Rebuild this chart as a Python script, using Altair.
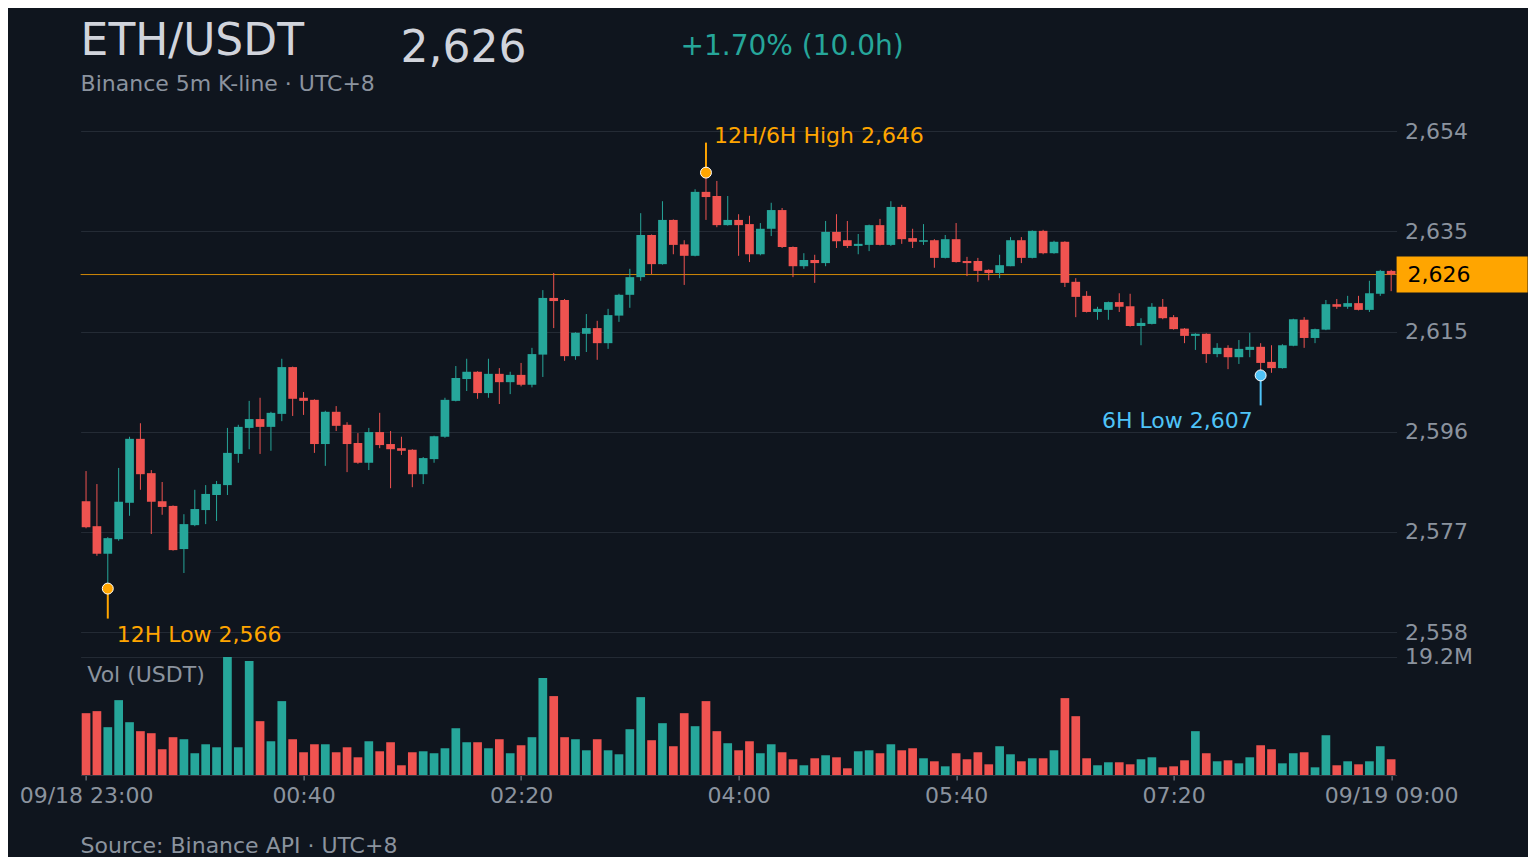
import altair as alt
import pandas as pd

# ETH/USDT 5m candles, 09/18 23:00 -> 09/19 09:00 (UTC+8)
opens = [
    2582.8, 2578.0, 2572.7, 2575.5, 2582.5, 2594.8, 2588.2, 2582.8, 2581.9, 2573.6,
    2578.2, 2581.1, 2584.0, 2585.9, 2591.9, 2596.9, 2598.6, 2597.1, 2599.6, 2608.6,
    2602.7, 2602.3, 2593.8, 2600.0, 2597.5, 2594.0, 2590.2, 2596.1, 2593.8, 2593.0,
    2592.7, 2588.0, 2590.9, 2595.2, 2602.1, 2606.3, 2607.7, 2603.6, 2607.3, 2605.7,
    2607.1, 2605.2, 2611.0, 2621.9, 2621.5, 2610.7, 2615.0, 2616.1, 2613.2, 2618.5,
    2622.5, 2625.9, 2634.0, 2628.4, 2636.9, 2632.2, 2630.0, 2642.3, 2641.5, 2635.9,
    2636.9, 2636.1, 2630.3, 2635.2, 2638.8, 2631.7, 2628.0, 2629.2, 2628.6, 2634.6,
    2633.0, 2631.9, 2632.1, 2635.9, 2632.1, 2639.4, 2633.4, 2632.7, 2633.0, 2629.6,
    2633.2, 2629.0, 2629.0, 2627.3, 2626.7, 2628.0, 2633.0, 2629.6, 2634.8, 2630.5,
    2632.7, 2625.0, 2622.3, 2619.2, 2619.6, 2621.1, 2620.3, 2616.5, 2616.9, 2620.2,
    2618.2, 2616.0, 2614.6, 2615.0, 2611.1, 2612.3, 2610.5, 2611.9, 2612.5, 2609.6,
    2608.4, 2612.7, 2617.7, 2614.2, 2615.8, 2620.7, 2620.2, 2620.9, 2619.6, 2622.7,
    2627.1,
]
highs = [
    2588.6, 2586.1, 2575.9, 2589.2, 2595.2, 2597.8, 2588.8, 2586.5, 2582.0, 2580.3,
    2585.0, 2585.9, 2586.7, 2596.9, 2597.5, 2602.1, 2602.7, 2600.0, 2610.2, 2608.7,
    2603.8, 2602.4, 2600.2, 2601.1, 2598.0, 2595.9, 2596.9, 2599.8, 2596.3, 2595.2,
    2592.8, 2591.3, 2595.4, 2602.7, 2608.8, 2610.2, 2607.8, 2610.2, 2608.4, 2607.7,
    2609.4, 2612.3, 2623.4, 2626.7, 2621.7, 2615.3, 2618.8, 2617.5, 2619.8, 2622.7,
    2627.5, 2638.2, 2634.1, 2640.5, 2637.0, 2633.0, 2642.8, 2646.0, 2644.4, 2641.5,
    2638.0, 2637.7, 2636.3, 2640.2, 2639.2, 2631.8, 2630.5, 2630.2, 2636.7, 2638.0,
    2636.7, 2634.2, 2636.0, 2637.1, 2640.5, 2639.8, 2635.2, 2636.1, 2633.2, 2634.0,
    2636.3, 2629.8, 2629.6, 2627.4, 2630.2, 2633.6, 2633.6, 2634.9, 2635.0, 2632.9,
    2632.8, 2625.7, 2623.2, 2620.2, 2621.2, 2622.8, 2622.7, 2618.0, 2620.9, 2621.7,
    2618.6, 2616.1, 2615.1, 2615.1, 2613.2, 2612.8, 2613.8, 2615.2, 2613.2, 2612.8,
    2613.0, 2617.9, 2618.2, 2616.0, 2621.5, 2621.7, 2622.3, 2622.3, 2625.2, 2627.3,
    2627.3,
]
lows = [
    2577.6, 2572.3, 2566.0, 2575.2, 2580.0, 2585.0, 2576.5, 2580.2, 2573.3, 2569.0,
    2578.0, 2578.4, 2579.0, 2584.0, 2590.2, 2592.8, 2591.9, 2592.5, 2598.2, 2599.2,
    2599.4, 2592.1, 2589.6, 2596.3, 2588.4, 2590.0, 2588.8, 2593.0, 2585.3, 2591.7,
    2585.5, 2586.1, 2590.2, 2595.0, 2602.0, 2604.0, 2602.5, 2602.7, 2601.5, 2603.4,
    2604.9, 2604.7, 2606.7, 2616.1, 2609.8, 2610.0, 2611.5, 2610.0, 2612.1, 2617.3,
    2620.0, 2625.2, 2626.5, 2628.3, 2630.3, 2624.4, 2629.9, 2636.9, 2635.5, 2635.8,
    2630.0, 2628.8, 2630.1, 2633.8, 2631.5, 2625.9, 2627.5, 2624.8, 2628.0, 2631.5,
    2631.5, 2630.3, 2630.9, 2632.0, 2631.9, 2632.3, 2631.5, 2632.1, 2627.7, 2629.5,
    2628.7, 2626.1, 2625.0, 2625.3, 2625.7, 2628.0, 2628.6, 2629.5, 2630.3, 2630.4,
    2624.0, 2618.2, 2619.1, 2617.7, 2617.7, 2619.2, 2616.4, 2612.8, 2616.8, 2617.8,
    2615.8, 2613.2, 2611.9, 2609.4, 2610.5, 2608.2, 2609.2, 2610.5, 2607.0, 2607.5,
    2608.3, 2612.6, 2612.3, 2613.2, 2615.7, 2619.8, 2619.8, 2619.5, 2619.2, 2622.3,
    2623.2,
]
closes = [
    2577.8, 2572.7, 2575.7, 2582.7, 2594.8, 2588.0, 2582.7, 2581.7, 2573.4, 2578.4,
    2581.3, 2584.2, 2586.1, 2592.1, 2597.1, 2598.6, 2597.1, 2599.8, 2608.6, 2602.5,
    2602.1, 2593.8, 2600.0, 2597.3, 2593.8, 2590.2, 2596.1, 2593.6, 2592.8, 2592.5,
    2588.0, 2591.1, 2595.3, 2602.3, 2606.5, 2607.7, 2603.6, 2607.3, 2605.7, 2607.1,
    2605.2, 2611.1, 2621.9, 2621.3, 2610.7, 2615.2, 2616.1, 2613.2, 2618.6, 2622.5,
    2625.9, 2634.0, 2628.4, 2636.9, 2632.1, 2630.0, 2642.3, 2641.3, 2635.9, 2636.9,
    2635.9, 2630.3, 2635.2, 2638.8, 2631.7, 2628.0, 2629.2, 2628.6, 2634.6, 2632.8,
    2631.9, 2632.3, 2635.9, 2632.1, 2639.4, 2633.2, 2632.7, 2633.0, 2629.6, 2633.2,
    2628.8, 2628.6, 2627.1, 2626.7, 2628.2, 2633.0, 2629.6, 2634.8, 2630.5, 2632.7,
    2624.8, 2622.1, 2619.2, 2619.8, 2621.1, 2620.2, 2616.5, 2617.1, 2620.2, 2618.0,
    2615.9, 2614.6, 2615.0, 2611.1, 2612.3, 2610.5, 2612.1, 2612.5, 2609.4, 2608.4,
    2612.8, 2617.8, 2614.2, 2615.9, 2620.7, 2620.2, 2620.9, 2619.6, 2622.8, 2627.1,
    2626.4,
]
# volume per candle, million USDT
volumes = [
    10.06, 10.39, 7.78, 12.18, 8.59, 7.13, 6.80, 4.19, 6.15, 5.82,
    3.54, 5.00, 4.51, 19.20, 4.51, 18.55, 8.76, 5.49, 12.02, 5.82,
    3.70, 5.00, 5.00, 3.70, 4.51, 2.88, 5.49, 3.86, 5.33, 1.58,
    3.70, 3.86, 3.54, 4.35, 7.61, 5.33, 5.33, 4.35, 5.82, 3.54,
    4.84, 6.15, 15.77, 12.84, 6.15, 5.82, 4.02, 5.82, 4.02, 3.37,
    7.45, 12.67, 5.66, 8.43, 4.68, 10.06, 7.94, 12.02, 7.13, 5.17,
    4.02, 5.49, 3.54, 5.00, 3.70, 2.56, 1.58, 2.72, 3.21, 2.88,
    1.09, 3.86, 4.02, 3.54, 5.00, 4.02, 4.35, 2.72, 2.23, 1.41,
    3.54, 2.56, 3.70, 1.74, 4.68, 3.37, 2.23, 2.72, 2.72, 4.02,
    12.51, 9.57, 2.72, 1.58, 2.07, 2.07, 1.74, 2.56, 2.88, 1.25,
    1.41, 2.39, 7.13, 3.54, 2.23, 2.39, 1.90, 2.88, 4.84, 4.19,
    1.90, 3.54, 3.70, 1.25, 6.47, 1.58, 2.23, 1.74, 2.23, 4.68,
    2.56,
]

price_ticks = [2557.6, 2576.9, 2596.2, 2615.4, 2634.7, 2654.0]
vol_ticks = [19.2]

BG = "#0f151e"
UP = "#26a69a"
DOWN = "#ef5350"
ORANGE = "#ffa500"
BLUE = "#4fc3f7"
TEXT = "#d1d4dc"
MUTED = "#8b939e"
GRID = "#242b35"
FONT = "DejaVu Sans"

W = 1316
PRICE_H = 525
VOL_H = 118

times = pd.date_range("2024-09-18 23:00", periods=len(opens), freq="5min")
candles = pd.DataFrame({
    "time": times, "open": opens, "high": highs, "low": lows,
    "close": closes, "volume": volumes,
})
candles["dir"] = ["up" if c >= o else "down" for o, c in zip(opens, closes)]


def dt(day, h, m, s=0):
    return alt.DateTime(year=2024, month=9, date=day, hours=h, minutes=m, seconds=s)


# half a candle of room either side, no extra bar padding
x_scale = alt.Scale(domain=[dt(18, 22, 57, 30), dt(19, 9, 2, 30)], padding=0)
y_price = alt.Scale(domain=[2555.15, 2656.12])
price_axis = alt.Axis(
    orient="right", values=price_ticks, format=",.0f", grid=True, gridColor=GRID,
    domain=False, ticks=False, labelPadding=8,
)
color = alt.Color("dir:N", scale=alt.Scale(domain=["up", "down"], range=[UP, DOWN]), legend=None)
px = alt.X("time:T", scale=x_scale, axis=None, title=None)


def py(field):
    return alt.Y(field, scale=y_price, axis=price_axis, title=None)


def label(text, x, y, size, colour, align="left", baseline="alphabetic"):
    return alt.Chart(pd.DataFrame({"text": [text]})).mark_text(
        align=align, baseline=baseline, fontSize=size, color=colour, font=FONT
    ).encode(x=alt.value(x), y=alt.value(y), text="text:N")


def marker(i, price, text, colour, up, align, dx):
    d = pd.DataFrame({"time": [times[i]], "price": [price], "text": [text]})
    base = alt.Chart(d).encode(x=px, y=py("price:Q"))
    pin = base.mark_rule(color=colour, strokeWidth=2, y2Offset=-30 if up else 30).encode(y2="price:Q")
    dot = base.mark_circle(size=120, color=colour, opacity=1, stroke="white", strokeWidth=1)
    txt = base.mark_text(
        align=align, baseline="alphabetic" if up else "top", dx=dx,
        dy=-30 if up else 36, fontSize=22, color=colour, font=FONT,
    ).encode(text="text:N")
    return pin + dot + txt


# last price line + tag on the price axis
last = candles.tail(1).assign(text=lambda d: d["close"].map(lambda v: f"{v:,.0f}"))
tag = alt.Chart(last).encode(y=py("close:Q"))
last_line = tag.mark_rule(color=ORANGE, strokeWidth=1, opacity=0.8)
tag_box = tag.mark_rect(color=ORANGE, yOffset=-18, y2Offset=18).encode(
    x=alt.value(W), x2=alt.value(W + 131), y2="close:Q"
)
tag_text = tag.mark_text(
    align="left", baseline="middle", fontSize=22, color="#000000", font=FONT
).encode(x=alt.value(W + 11), text="text:N")

wicks = alt.Chart(candles).mark_rule(strokeWidth=1).encode(
    x=px, y=py("low:Q"), y2="high:Q", color=color
)
bodies = alt.Chart(candles).mark_bar(width=8.7).encode(
    x=px, y=py("open:Q"), y2="close:Q", color=color
)

price = alt.layer(
    last_line, wicks, bodies,
    marker(2, lows[2], f"12H Low {lows[2]:,.0f}", ORANGE, False, "left", 9),
    marker(57, highs[57], f"12H/6H High {highs[57]:,.0f}", ORANGE, True, "left", 8),
    marker(108, lows[108], f"6H Low {lows[108]:,.0f}", BLUE, False, "right", -8),
    tag_box, tag_text,
    label("ETH/USDT", 0, -65, 44, TEXT),
    label(f"{closes[-1]:,.0f}", 320, -58.5, 44, TEXT),
    label("+1.70% (10.0h)", 600, -65, 28, UP),
    label("Binance 5m K-line · UTC+8", 0, -29, 22, MUTED),
).properties(width=W, height=PRICE_H)

time_ticks = [dt(18, 23, 0), dt(19, 0, 40), dt(19, 2, 20), dt(19, 4, 0),
              dt(19, 5, 40), dt(19, 7, 20), dt(19, 9, 0)]
hm = "timeFormat(datum.value, '%H:%M')"
vol_bars = alt.Chart(candles).mark_bar(width=8.7).encode(
    x=alt.X("time:T", scale=x_scale, title=None, axis=alt.Axis(
        values=time_ticks, grid=False, domain=True, domainColor="#363b45",
        ticks=True, tickColor=MUTED, tickSize=5, labelPadding=6,
        labelFlush=False, labelOverlap=False,
        labelExpr=f"({hm} == '23:00' || {hm} == '09:00') ? "
                  f"timeFormat(datum.value, '%m/%d %H:%M') : {hm}",
    )),
    y=alt.Y("volume:Q", scale=alt.Scale(domain=[0, max(volumes)]), title=None, axis=alt.Axis(
        orient="right", values=vol_ticks, grid=True, gridColor=GRID, domain=False,
        ticks=False, labelPadding=8, labelExpr="format(datum.value, '.1f') + 'M'",
    )),
    color=color,
)

volume = alt.layer(
    vol_bars,
    label("Vol (USDT)", 6.7, 25.3, 22, MUTED),
    label("Source: Binance API · UTC+8", 0, 196, 22, MUTED),
).properties(width=W, height=VOL_H)

chart = alt.vconcat(price, volume, spacing=12, bounds="flush").properties(
    background=BG,
    padding={"left": 10.6, "top": 12, "right": 0, "bottom": 0},
    # dark page behind the chart as well
    usermeta={"embedOptions": {"defaultStyle": f"html, body {{ background: {BG}; }}"}},
).configure_view(stroke=None).configure_axis(
    labelFont=FONT, labelColor=MUTED, labelFontSize=22
)

chart.save("out.html", embed_options={"renderer": "svg", "actions": False})
